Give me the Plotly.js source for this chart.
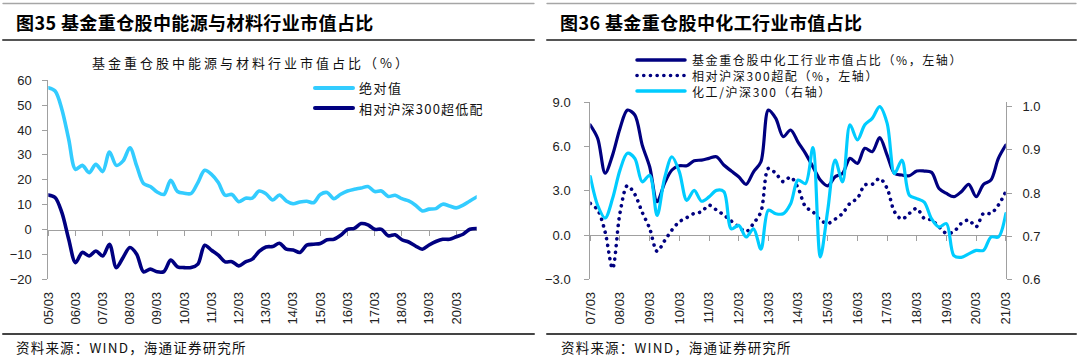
<!DOCTYPE html>
<html>
<head>
<meta charset="utf-8">
<script src="https://cdn.plot.ly/plotly-3.0.1.min.js"></script>
<style>
html,body{margin:0;padding:0;background:#fff;}
#chart{width:1080px;height:356px;}
.scatterlayer path.js-line, .shapelayer path {stroke-linecap: round;}
</style>
</head>
<body>
<div id="chart"></div>
<script>
// ---------- DATA ----------
const leftCats = ['05/03','05/06','05/09','05/12','06/03','06/06','06/09','06/12','07/03','07/06','07/09','07/12',
  '08/03','08/06','08/09','08/12','09/03','09/06','09/09','09/12','10/03','10/06','10/09','10/12',
  '11/03','11/06','11/09','11/12','12/03','12/06','12/09','12/12','13/03','13/06','13/09','13/12',
  '14/03','14/06','14/09','14/12','15/03','15/06','15/09','15/12','16/03','16/06','16/09','16/12',
  '17/03','17/06','17/09','17/12','18/03','18/06','18/09','18/12','19/03','19/06','19/09','19/12',
  '20/03','20/06','20/09','20/12'];
const leftTicks = ['05/03','06/03','07/03','08/03','09/03','10/03','11/03','12/03','13/03','14/03','15/03','16/03','17/03','18/03','19/03','20/03'];
const leftAbsolute = [57.0,55.7,48.3,36.3,24.2,25.8,22.9,26.2,23.3,31.2,25.8,27.6,32.9,25.6,18.5,17.3,
  15.1,14.1,19.8,15.3,14.6,14.5,18.9,23.8,22.2,18.9,13.8,14.1,11.2,12.6,12.6,15.5,
  14.4,11.9,13.9,11.5,10.4,11.1,11.4,10.8,14.1,14.9,12.4,14.2,15.5,16.2,16.7,17.3,
  15.3,15.5,13.3,13.8,12.4,11.5,9.8,7.5,8.2,8.4,10.2,9.5,8.7,9.8,11.5,13.1];
const leftRelative = [13.9,12.9,6.8,-3.9,-13.3,-9.2,-10.6,-8.6,-10.6,-5.9,-15.3,-11.2,-7.2,-9.9,-17.0,-15.9,
  -17.0,-16.9,-12.3,-15.0,-15.3,-15.3,-13.9,-6.3,-8.3,-10.3,-13.0,-12.9,-14.6,-13.0,-11.9,-8.8,
  -7.0,-6.8,-5.5,-7.9,-8.2,-9.2,-6.3,-5.9,-5.6,-4.1,-3.9,-2.3,0.1,0.5,2.4,1.9,
  0.1,0.1,-2.5,-2.1,-4.1,-5.0,-6.6,-7.9,-6.2,-4.8,-3.9,-3.9,-2.9,-1.9,0.1,0.4];

const rightCats = ['07/03','07/06','07/09','07/12','08/03','08/06','08/09','08/12','09/03','09/06','09/09','09/12',
  '10/03','10/06','10/09','10/12','11/03','11/06','11/09','11/12','12/03','12/06','12/09','12/12',
  '13/03','13/06','13/09','13/12','14/03','14/06','14/09','14/12','15/03','15/06','15/09','15/12',
  '16/03','16/06','16/09','16/12','17/03','17/06','17/09','17/12','18/03','18/06','18/09','18/12',
  '19/03','19/06','19/09','19/12','20/03','20/06','20/09','20/12','21/03'];
const rightTicks = ['07/03','08/03','09/03','10/03','11/03','12/03','13/03','14/03','15/03','16/03','17/03','18/03','19/03','20/03','21/03'];
const chemShare = [7.46,6.55,4.2,5.42,7.23,8.47,8.14,6.10,4.63,2.26,3.50,4.41,4.70,4.70,5.04,5.08,
  5.20,5.31,4.75,4.34,3.95,3.44,4.29,4.97,8.47,7.91,6.67,7.12,6.3,5.54,4.63,3.73,
  3.34,3.95,4.18,5.20,4.86,5.88,5.65,6.60,5.42,4.18,4.07,4.02,4.34,4.34,4.25,3.16,
  2.82,2.60,2.94,3.44,2.60,3.44,3.73,5.20,6.10];
const chemOverweight = [2.15,1.7,0.2,-2.26,1.5,3.35,2.76,1.54,0.45,-1.1,-0.4,0.34,0.9,1.18,1.47,1.58,
  2.03,1.7,1.36,0.95,0.56,0.23,0.79,1.58,4.52,4.18,3.62,3.93,3.2,1.92,1.58,1.02,
  0.79,1.08,1.47,2.15,2.49,3.39,3.44,3.84,3.16,1.58,1.08,1.47,1.81,1.13,1.02,0.56,
  0.11,0.23,0.79,1.02,0.56,1.47,1.47,2.03,2.94];
const chemRatio = [0.838,0.771,0.742,0.787,0.853,0.892,0.880,0.826,0.841,0.748,0.834,0.884,0.849,0.783,0.806,0.781,
  0.791,0.806,0.803,0.717,0.725,0.698,0.717,0.670,0.760,0.752,0.752,0.775,0.830,0.822,0.905,0.652,
  0.760,0.876,0.826,0.958,0.923,0.958,0.973,1.0,0.962,0.845,0.876,0.795,0.787,0.779,0.740,0.721,
  0.729,0.655,0.651,0.659,0.667,0.667,0.698,0.698,0.752];

// ---------- STYLE ----------
const W = 1080, H = 356;
const px = v => v / W;
const py = v => 1 - v / H;
const CJK = '"Noto Sans CJK SC", "Noto Sans", sans-serif';
const LAT = '"Liberation Sans", Arial, sans-serif';
const axisGray = '#A0A0A0';
const cyanL = '#33CCFF', cyanR = '#00CCFF', navy = '#000080';

const lxDom = [px(48.3), px(476.7)];
const lyDom = [py(279.3), py(80.3)];
const lyRange = [-20, 60];
const rxDom = [px(590.3), px(1005.8)];
const ryDom = [py(279.3), py(102.3)];
const ryRange = [-3, 9];
const ry3Range = [0.6, 1.0102];

const zeroPos = (dom, rng) => dom[0] + (0 - rng[0]) / (rng[1] - rng[0]) * (dom[1] - dom[0]);

const tickFont = {family: LAT, size: 13, color: '#222'};

const traces = [
  {x: leftCats, y: leftAbsolute, xaxis: 'x', yaxis: 'y', mode: 'lines', name: '绝对值',
   line: {color: cyanL, width: 3.6, shape: 'spline', smoothing: 0.9}},
  {x: leftCats, y: leftRelative, xaxis: 'x', yaxis: 'y', mode: 'lines', name: '相对沪深300超低配',
   line: {color: navy, width: 3.6, shape: 'spline', smoothing: 0.9}},
  {x: leftCats.map((c, i) => i), y: leftAbsolute, xaxis: 'x3', yaxis: 'y', mode: 'lines', opacity: 0,
   hoverinfo: 'skip', line: {width: 0}},
  {x: rightCats, y: chemShare, xaxis: 'x2', yaxis: 'y2', mode: 'lines', name: '基金重仓股中化工行业市值占比（%，左轴）',
   line: {color: navy, width: 3.2, shape: 'spline', smoothing: 0.9}},
  {x: rightCats, y: chemOverweight, xaxis: 'x2', yaxis: 'y2', mode: 'lines', name: '相对沪深300超配（%，左轴）',
   line: {color: navy, width: 3.6, shape: 'spline', smoothing: 0.9, dash: '0.1px,6.6px'}},
  {x: rightCats, y: chemRatio, xaxis: 'x2', yaxis: 'y3', mode: 'lines', name: '化工/沪深300（右轴）',
   line: {color: cyanR, width: 3.2, shape: 'spline', smoothing: 0.9}},
  {x: rightCats.map((c, i) => i), y: chemShare, xaxis: 'x4', yaxis: 'y2', mode: 'lines', opacity: 0,
   hoverinfo: 'skip', line: {width: 0}}
];

const catAxis = (dom, anchor, n, ticks) => ({
  domain: dom, anchor: anchor, type: 'category', range: [0, n - 1],
  tickmode: 'array', tickvals: ticks, ticktext: ticks, tickangle: -90,
  showline: false, ticks: '', showgrid: false, zeroline: false,
  tickfont: tickFont, ticklabelstandoff: 9
});
const zeroAxis = (over, pos, n, cats, ticks) => ({
  overlaying: over, anchor: 'free', position: pos, type: 'linear', range: [0, n - 1],
  tickmode: 'array', tickvals: ticks.map(t => cats.indexOf(t)),
  showticklabels: false, showline: true, linecolor: axisGray, linewidth: 1,
  ticks: 'outside', ticklen: 5, tickcolor: axisGray, tickwidth: 1,
  showgrid: false, zeroline: false, layer: 'below traces'
});
const valAxis = (dom, anchor, rng, dtick, fmt, standoff) => ({
  domain: dom, anchor: anchor, range: rng, dtick: dtick, tick0: rng[0], tickformat: fmt,
  showline: true, linecolor: axisGray, linewidth: 1, ticks: 'outside', ticklen: 5,
  tickcolor: axisGray, showgrid: false, zeroline: false, tickfont: tickFont,
  ticklabelstandoff: standoff, layer: 'below traces'
});

const ann = (text, x, y, size, opts) => Object.assign({
  text: text, x: px(x), y: py(y), xref: 'paper', yref: 'paper', showarrow: false,
  xanchor: 'left', yanchor: 'middle', borderpad: 0, font: {family: CJK, size: size, color: '#111'}
}, opts || {});
const sp = (t, s) => '<span style="letter-spacing:' + s + 'px">' + t + '</span>';
const hline = (x0, x1, y, color, w, dash) => ({
  type: 'line', xref: 'paper', yref: 'paper', x0: px(x0), x1: px(x1), y0: py(y), y1: py(y),
  line: {color: color, width: w, dash: dash || 'solid'}
});

const layout = {
  width: W, height: H, margin: {l: 0, r: 0, t: 0, b: 0},
  paper_bgcolor: '#fff', plot_bgcolor: 'rgba(0,0,0,0)', showlegend: false,
  xaxis: catAxis(lxDom, 'y', leftCats.length, leftTicks),
  yaxis: valAxis(lyDom, 'x', lyRange, 10, 'd', 8),
  xaxis3: zeroAxis('x', zeroPos(lyDom, lyRange), leftCats.length, leftCats, leftTicks),
  xaxis2: catAxis(rxDom, 'y2', rightCats.length, rightTicks),
  yaxis2: valAxis(ryDom, 'x2', ryRange, 3, '.1f', 11),
  yaxis3: Object.assign(valAxis(ryDom, 'x2', ry3Range, 0.1, '.1f', 8),
    {overlaying: 'y2', side: 'right', tickmode: 'array', tickvals: [0.6, 0.7, 0.8, 0.9, 1.0]}),
  xaxis4: zeroAxis('x2', zeroPos(ryDom, ryRange), rightCats.length, rightCats, rightTicks),
  shapes: [
    hline(3, 534, 3.5, '#A6A6A6', 1.3),
    hline(547, 1076, 3.5, '#A6A6A6', 1.3),
    hline(3, 534, 40, '#555', 2),
    hline(547, 1076, 40, '#555', 2),
    hline(3, 534, 334, '#444', 2),
    hline(547, 1076, 334, '#444', 2),
    hline(315, 353, 88, cyanL, 4),
    hline(315, 353, 108, navy, 4),
    hline(637, 685, 60, navy, 3.5),
    hline(637, 685, 75.5, navy, 3.6, '0.1px,6.6px'),
    hline(637, 685, 91, cyanR, 3.5)
  ],
  annotations: [
    ann(sp('图35 基金重仓股中能源与材料行业市值占比', 0.4), 15, 22, 18, {font: {family: CJK, size: 18, color: '#000', weight: 'bold'}}),
    ann(sp('图36 基金重仓股中化工行业市值占比', 0.4), 559, 22, 18, {font: {family: CJK, size: 18, color: '#000', weight: 'bold'}}),
    ann(sp('基金重仓股中能源与材料行业市值占比（%）', 3), 251, 63, 13, {xanchor: 'center'}),
    ann(sp('绝对值', 1.5), 358, 88, 13),
    ann(sp('相对沪深300超低配', 1.2), 358, 108, 13),
    ann(sp('基金重仓股中化工行业市值占比（%，左轴）', 1.6), 691, 60, 12),
    ann(sp('相对沪深300超配（%，左轴）', 1.6), 691, 75.5, 12),
    ann(sp('化工/沪深300（右轴）', 1.6), 691, 91, 12),
    ann(sp('资料来源：WIND，海通证券研究所', 1.2), 15, 347, 13.5),
    ann(sp('资料来源：WIND，海通证券研究所', 1.2), 560, 347, 13.5)
  ]
};

Plotly.newPlot('chart', traces, layout, {staticPlot: true, displayModeBar: false});
</script>
</body>
</html>
